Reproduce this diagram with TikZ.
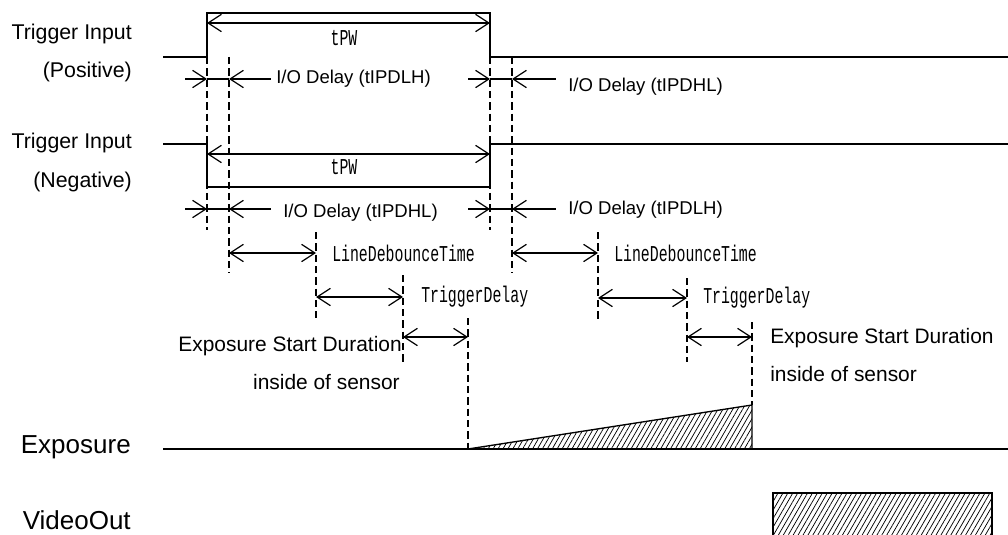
\documentclass[tikz,border=0pt]{standalone}
\usepackage{fontspec}
\setmainfont{Liberation Sans}
\newfontfamily\tdmono{Liberation Mono}
\usetikzlibrary{arrows.meta,patterns.meta}
\newcommand{\mtext}[1]{\scalebox{0.655}[1]{\tdmono\fontsize{17}{19}\selectfont #1}}
\begin{document}
\begin{tikzpicture}[x=0.75pt,y=-0.75pt,
  >={Straight Barb[length=10pt,width=13pt]},
  sig/.style={line width=1.2pt},
  dim/.style={line width=0.9pt},
  guide/.style={line width=0.9pt,dash pattern=on 5.5pt off 3pt},
  hatch/.style={draw,line width=1pt,pattern={Lines[angle=60,distance=3.2pt,line width=0.55pt]}},
  lbl/.style={inner sep=0pt,font=\fontsize{16}{18}\selectfont},
  big/.style={inner sep=0pt,font=\fontsize{19.5}{22}\selectfont},
  io/.style={inner sep=0pt,font=\fontsize{13.9}{16}\selectfont},
  es/.style={inner sep=0pt,font=\fontsize{15.7}{18}\selectfont},
  mono/.style={inner sep=0pt}]
\useasboundingbox (0,0) rectangle (1008,535);
\clip (0,0) rectangle (1008,535);

% ---- left labels
\node[lbl,anchor=east] (tp1) at (132,34) {Trigger Input};
\node[lbl,anchor=east] (tp2) at (132,72) {(Positive)};
\node[lbl,anchor=east] (tn1) at (132,143) {Trigger Input};
\node[lbl,anchor=east] (tn2) at (132,182) {(Negative)};
\node[big,anchor=east] (lexp) at (131,447) {Exposure};
\node[big,anchor=east] (lvid) at (131,520) {VideoOut};

% ---- signals
\draw[sig] (163,57) -- (207,57) -- (207,13) -- (490,13) -- (490,57) -- (1008,57);
\draw[sig] (163,144) -- (207,144) -- (207,187) -- (490,187) -- (490,144) -- (1008,144);
\draw[sig] (163,449) -- (1008,449);
\draw[hatch] (468,449) -- (752,405) -- (752,449) -- cycle;
\draw[hatch] (773,493) rectangle (992,545);

% ---- dashed guides
\draw[guide] (207,57) -- (207,230);
\draw[guide] (229,57) -- (229,273);
\draw[guide] (490,57) -- (490,230);
\draw[guide] (512,57) -- (512,273);
\draw[guide] (316,232) -- (316,318);
\draw[guide] (403,275) -- (403,362);
\draw[guide] (468,318) -- (468,449);
\draw[guide] (598,232) -- (598,320);
\draw[guide] (687,278) -- (687,362);
\draw[guide] (752,322) -- (752,405);

% ---- tPW
\draw[dim,<->] (207,23) -- (490,23);
\node[mono] (tpw1) at (344,38) {\mtext{tPW}};
\draw[dim,<->] (207,154) -- (490,154);
\node[mono] (tpw2) at (344,167) {\mtext{tPW}};

% ---- I/O delays
\foreach \y in {79,209}{
  \draw[dim,->] (185,\y) -- (207,\y);
  \draw[dim] (207,\y) -- (229,\y);
  \draw[dim,<-] (229,\y) -- (271,\y);
  \draw[dim,->] (468,\y) -- (490,\y);
  \draw[dim] (490,\y) -- (512,\y);
  \draw[dim,<-] (512,\y) -- (556,\y);
}
\node[io,anchor=west] (io1) at (276,79) {I/O Delay (tIPDLH)};
\node[io,anchor=west] (io2) at (568,87) {I/O Delay (tIPDHL)};
\node[io,anchor=west] (io3) at (283,213) {I/O Delay (tIPDHL)};
\node[io,anchor=west] (io4) at (568,210) {I/O Delay (tIPDLH)};

% ---- debounce / trigger delay / exposure start
\draw[dim,<->] (229,253) -- (316,253);
\node[mono,anchor=west] (ld1) at (332,253) {\mtext{LineDebounceTime}};
\draw[dim,<->] (512,253) -- (598,253);
\node[mono,anchor=west] (ld2) at (614,253) {\mtext{LineDebounceTime}};
\draw[dim,<->] (316,297) -- (403,297);
\node[mono,anchor=west] (td1) at (421,297) {\mtext{TriggerDelay}};
\draw[dim,<->] (598,298) -- (687,298);
\node[mono,anchor=west] (td2) at (703,298) {\mtext{TriggerDelay}};
\draw[dim,<->] (403,337) -- (468,337);
\draw[dim,<->] (687,337) -- (752,337);
\node[es,anchor=east] (es1) at (402,346) {Exposure Start Duration};
\node[es,anchor=east] (es2) at (400,382) {inside of sensor};
\node[es,anchor=west] (es3) at (770,338) {Exposure Start Duration};
\node[es,anchor=west] (es4) at (770,374) {inside of sensor};
\end{tikzpicture}
\end{document}
